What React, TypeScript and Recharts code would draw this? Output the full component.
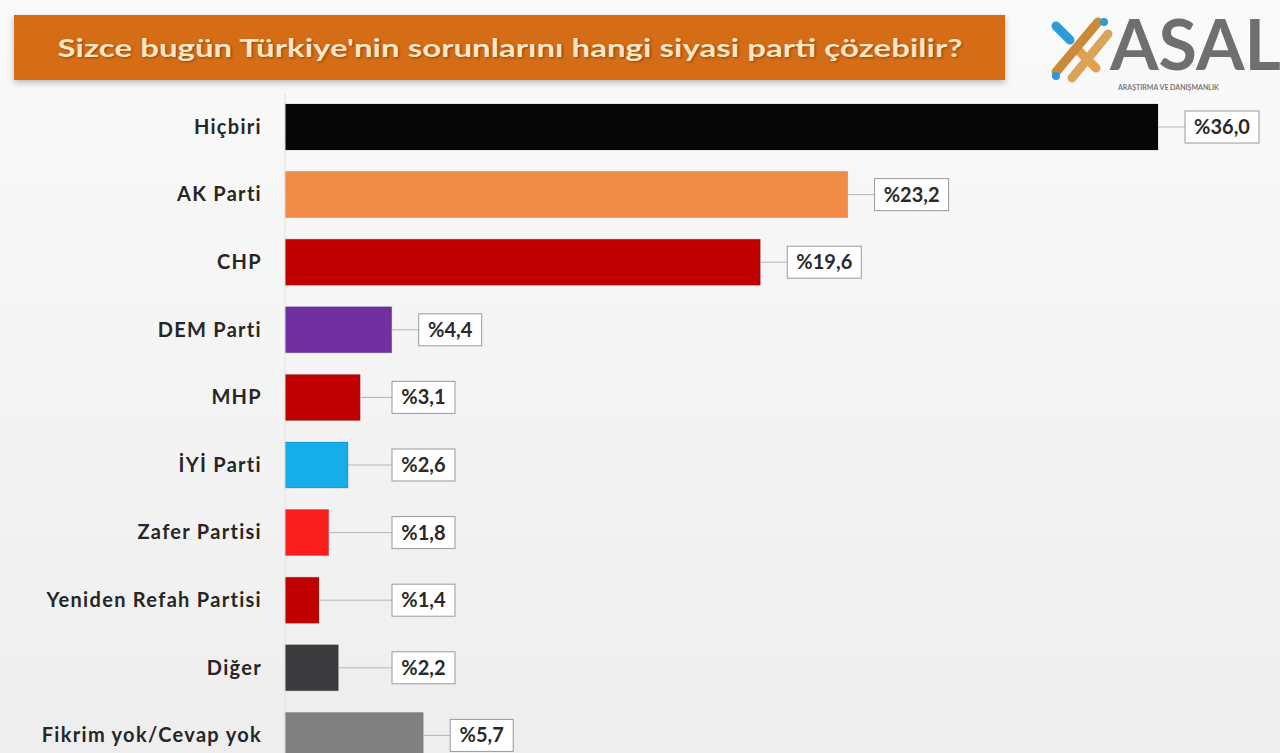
import React from 'react';
import { Bar, BarChart, Cell, LabelList, XAxis, YAxis } from 'recharts';

const parties = [
  'Hiçbiri',
  'AK Parti',
  'CHP',
  'DEM Parti',
  'MHP',
  'İYİ Parti',
  'Zafer Partisi',
  'Yeniden Refah Partisi',
  'Diğer',
  'Fikrim yok/Cevap yok',
];
const shares = [36.0, 23.2, 19.6, 4.4, 3.1, 2.6, 1.8, 1.4, 2.2, 5.7];
const barColors = [
  '#060606',
  '#f08c48',
  '#c00000',
  '#7030a0',
  '#c00000',
  '#16aee8',
  '#fa1e1e',
  '#c00000',
  '#3b3b3d',
  '#808080',
];

const title = "Sizce bugün Türkiye'nin sorunlarını hangi siyasi parti çözebilir?";

const data = parties.map((name, i) => ({ name, value: shares[i], color: barColors[i] }));

const FONT = 'Lato, "Open Sans", sans-serif';

function PartyTick(props: any) {
  const { x, y, payload } = props;
  return (
    <text
      x={x}
      y={y}
      dy={7}
      textAnchor="end"
      fontFamily={FONT}
      fontWeight={700}
      fontSize={20}
      letterSpacing={1.3}
      fill="#262626"
    >
      {payload.value}
    </text>
  );
}

function ValueBox(props: any) {
  const { x, y, width, height, value } = props;
  const end = x + width;
  const cy = y + height / 2;
  const boxX = Math.max(end + 27, 392);
  const text = '%' + Number(value).toFixed(1).replace('.', ',');
  const boxW = text.length > 4 ? 74 : 63;
  return (
    <g>
      <line x1={end} y1={cy} x2={boxX} y2={cy} stroke="#b5b5b5" strokeWidth={1} />
      <rect x={boxX} y={cy - 16} width={boxW} height={32} fill="#ffffff" stroke="#9a9a9a" strokeWidth={1} />
      <text
        x={boxX + boxW / 2}
        y={cy}
        dy={7}
        textAnchor="middle"
        fontFamily={FONT}
        fontWeight={700}
        fontSize={20}
        fill="#2a2a2a"
      >
        {text}
      </text>
    </g>
  );
}

function Header() {
  return (
    <svg width={1280} height={100} style={{ position: 'absolute', left: 0, top: 0 }}>
      <defs>
        <filter id="sh" x="-5%" y="-20%" width="110%" height="150%">
          <feDropShadow dx="0" dy="3" stdDeviation="3" floodColor="#000" floodOpacity="0.25" />
        </filter>
      </defs>
      <rect x={14} y={15} width={991} height={65} fill="#d56c16" filter="url(#sh)" />
      <text
        x={510}
        y={57}
        textAnchor="middle"
        fontFamily={FONT}
        fontWeight={700}
        fontSize={25}
        fill="#fce6c4"
        textLength={905}
        lengthAdjust="spacingAndGlyphs"
        style={{ textShadow: '1px 1px 2px rgba(0,0,0,0.35)' }}
      >
        {title}
      </text>
      <g strokeLinecap="round" strokeWidth={9}>
        <line x1={1056} y1={26} x2={1070} y2={40} stroke="#2f9bd6" />
        <line x1={1080} y1={52} x2={1096} y2={68} stroke="#e0a050" />
        <line x1={1098} y1={22} x2={1056} y2={72} stroke="#c98a3a" />
        <line x1={1108} y1={34} x2={1072} y2={78} stroke="#d9a35a" />
      </g>
      <circle cx={1056} cy={76} r={4} fill="#2f9bd6" />
      <circle cx={1104} cy={22} r={4} fill="#2f9bd6" />
      <text x={1110} y={70} fontFamily={FONT} fontWeight={700} fontSize={70} fill="#6f6f6f" letterSpacing={0}>
        ASAL
      </text>
      <text x={1118} y={90} fontFamily={FONT} fontWeight={700} fontSize={7} fill="#777">
        ARAŞTIRMA VE DANIŞMANLIK
      </text>
    </svg>
  );
}

export default function App() {
  return (
    <div
      style={{
        position: 'absolute',
        left: 0,
        top: 0,
        width: 1280,
        height: 753,
        overflow: 'hidden',
        background: 'linear-gradient(#fafafa, #eeeeee)',
      }}
    >
      <div style={{ position: 'absolute', left: 0, top: 0 }}>
        <BarChart
          width={1280}
          height={769}
          data={data}
          layout="vertical"
          margin={{ top: 93, right: 25, bottom: 0, left: 0 }}
          barSize={46}
        >
          <XAxis type="number" domain={[0, 40]} hide />
          <YAxis
            type="category"
            dataKey="name"
            width={285}
            tickLine={false}
            tickSize={0}
            tickMargin={23}
            axisLine={{ stroke: '#e2e2e2' }}
            tick={<PartyTick />}
            interval={0}
          />
          <Bar dataKey="value" isAnimationActive={false} stroke="rgba(0,0,0,0.15)">
            {data.map((d) => (
              <Cell key={d.name} fill={d.color} />
            ))}
            <LabelList dataKey="value" content={<ValueBox />} />
          </Bar>
        </BarChart>
      </div>
      <Header />
    </div>
  );
}
